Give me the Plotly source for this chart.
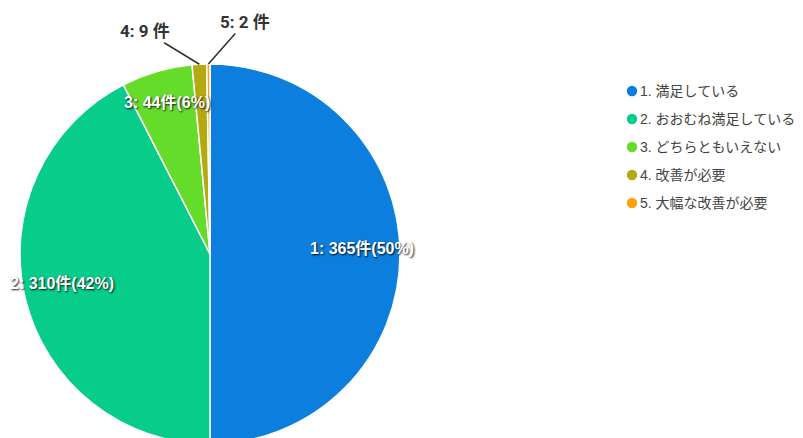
import math
import plotly.graph_objects as go

W, H = 803, 438
OFF = 8  # default page margin around the figure (screen = figure + OFF)

codes = ["1", "2", "3", "4", "5"]
labels = ["1. 満足している", "2. おおむね満足している", "3. どちらともいえない",
          "4. 改善が必要", "5. 大幅な改善が必要"]
counts = [365, 310, 44, 9, 2]
colors = ["#0C7FDE", "#07CC8A", "#66DC2A", "#B4A90E", "#FFA00E"]

# pie geometry (screen pixels)
R = 190
CX, CY = 210, 254


def px(sx):
    return (sx - OFF) / W


def py(sy):
    return 1 - (sy - OFF) / H


fig = go.Figure()
fig.add_trace(go.Pie(
    labels=labels, values=counts, sort=False, direction="clockwise", rotation=0,
    marker=dict(colors=colors, line=dict(color="white", width=1.5)),
    textinfo="none", hoverinfo="label+value+percent", showlegend=False,
    domain=dict(x=[px(CX - R), px(CX + R)], y=[py(CY + R), py(CY - R)]),
))

total = sum(counts)
ann = []
shapes = []
cum = 0.0
for c, v in zip(codes, counts):
    a0 = cum / total * 360
    cum += v
    a1 = cum / total * 360
    mid = math.radians((a0 + a1) / 2)
    pct = round(v / total * 100)
    if v / total > 0.03:
        r = 0.8 * R
        sx = CX + r * math.sin(mid)
        sy = CY - r * math.cos(mid)
        ann.append(dict(
            x=px(sx), y=py(sy), xref="paper", yref="paper",
            xanchor="center", yanchor="middle", yshift=6,
            text=f"{c}: {v}件({pct}%)", showarrow=False,
            font=dict(family="Liberation Sans, Arial, Noto Sans CJK JP", size=16,
                      color="white", weight="bold",
                      shadow="1px 1px 2px rgba(0,0,0,0.9)"),
        ))
    else:
        sx = CX + R * math.sin(mid)
        sy = CY - R * math.cos(mid)
        off = {"4": (-54, -33), "5": (37, -42)}[c]
        ann.append(dict(
            x=px(sx), y=py(sy), xref="paper", yref="paper",
            text=f"{c}: {v} 件", showarrow=True, arrowhead=0, arrowwidth=1.6,
            arrowcolor="#333333", ax=off[0], ay=off[1], standoff=0,
            font=dict(family="Roboto, Noto Sans CJK JP", size=17, color="#333333",
                      weight="bold"),
        ))

# legend (circle marker + label), rows in screen pixels
LEG_X, LEG_Y0, LEG_DY = 632, 91, 28
for i, (lab, col) in enumerate(zip(labels, colors)):
    y = LEG_Y0 + i * LEG_DY
    shapes.append(dict(
        type="circle", xref="paper", yref="paper", xsizemode="pixel", ysizemode="pixel",
        xanchor=px(LEG_X), yanchor=py(y), x0=-5.2, x1=5.2, y0=-5.2, y1=5.2,
        fillcolor=col, line=dict(width=0),
    ))
    ann.append(dict(
        x=px(LEG_X + 6), y=py(y), xref="paper", yref="paper", xanchor="left",
        yanchor="middle", text=lab, showarrow=False,
        font=dict(family="Liberation Sans, Arial, Noto Sans CJK JP", size=14,
                  color="#444444"),
    ))

fig.update_layout(
    width=W, height=H, margin=dict(l=0, r=0, t=0, b=0),
    paper_bgcolor="white", plot_bgcolor="white",
    annotations=ann, shapes=shapes, showlegend=False,
)

fig.write_html("out.html")
